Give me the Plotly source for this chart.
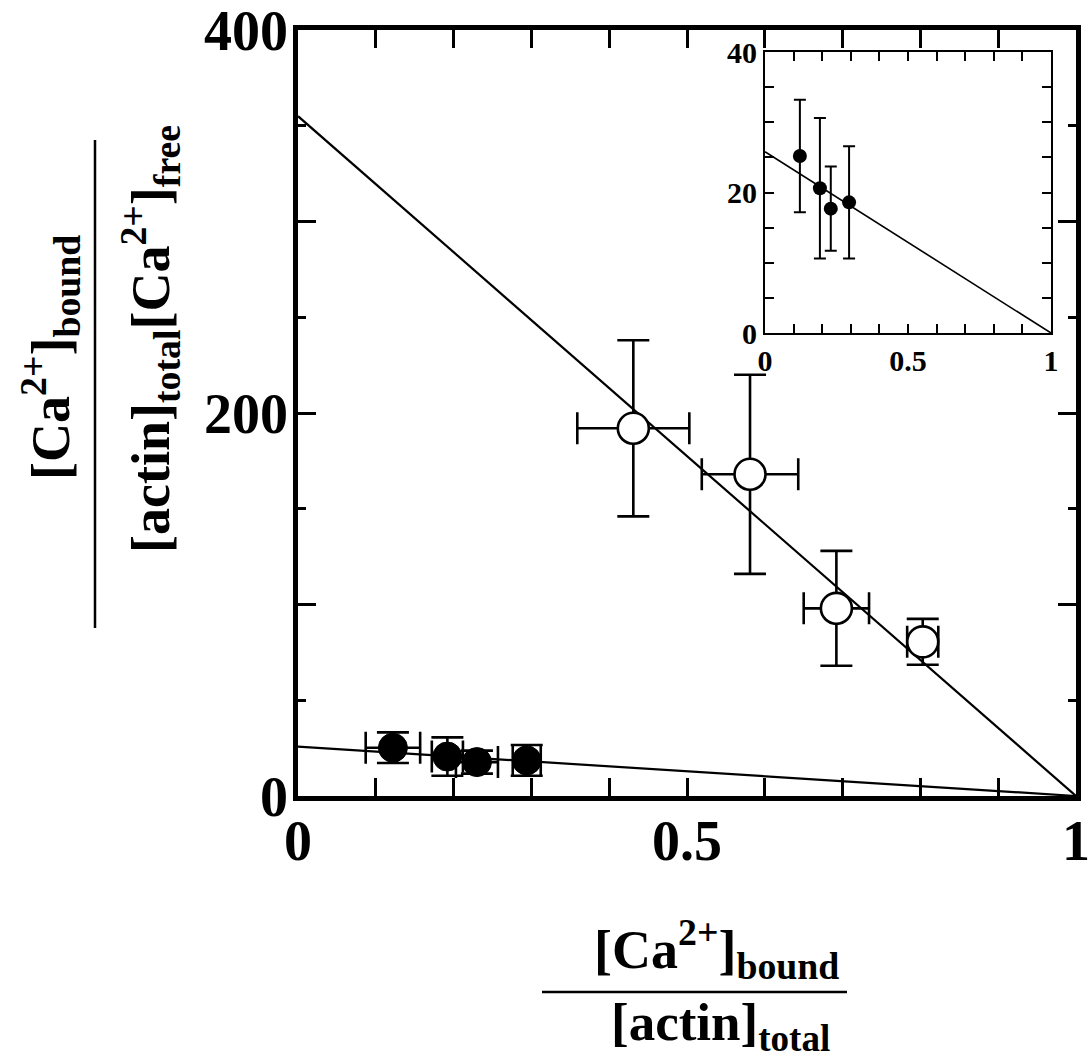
import plotly.graph_objects as go

# Scatchard-type data: open circles (high-affinity set) and filled circles
open_x = [0.431, 0.581, 0.692, 0.803]
open_y = [192.0, 168.0, 98.0, 80.5]
open_xerr = [0.072, 0.062, 0.042, 0.020]
open_yerr = [46.0, 52.0, 30.0, 12.0]

filled_x = [0.122, 0.192, 0.230, 0.294]
filled_y = [25.2, 20.6, 17.7, 18.6]
filled_xerr = [0.035, 0.020, 0.027, 0.018]
filled_yerr = [8.0, 10.0, 6.0, 8.0]

# Linear fits (intercept on y axis, crossing x = 1)
fit_x = [0.0, 1.0]
fit_open_y = [355.0, 0.0]
fit_filled_y = [25.8, 0.0]

# Tick values / labels
main_xticks = [0.0, 0.1, 0.2, 0.3, 0.4, 0.5, 0.6, 0.7, 0.8, 0.9, 1.0]
main_xlabels = ["0", "", "", "", "", "0.5", "", "", "", "", "1"]
main_yticks = [0, 100, 200, 300, 400]
main_ylabels = ["0", "", "200", "", "400"]
inset_xticks = main_xticks
inset_xlabels = main_xlabels
inset_yticks = [0, 5, 10, 15, 20, 25, 30, 35, 40]
inset_ylabels = ["0", "", "", "", "20", "", "", "", "40"]

W, H = 1092, 1061
ML, MR, MT, MB = 298, 16, 30, 265
PW, PH = W - ML - MR, H - MT - MB


def px(xpix):
    return (xpix - ML) / PW


def py(ypix):
    return (H - MB - ypix) / PH


SERIF = "Liberation Serif"
BIG = dict(family=SERIF, size=56, color="black", weight="bold")
SMALL = dict(family=SERIF, size=30, color="black", weight="bold")

fig = go.Figure()

# main panel: fit lines
fig.add_trace(go.Scatter(x=fit_x, y=fit_open_y, mode="lines",
                         line=dict(color="black", width=2.2), hoverinfo="skip"))
fig.add_trace(go.Scatter(x=fit_x, y=fit_filled_y, mode="lines",
                         line=dict(color="black", width=2.2), hoverinfo="skip"))

# main panel: open circles
fig.add_trace(go.Scatter(
    x=open_x, y=open_y, mode="markers",
    marker=dict(symbol="circle", size=31, color="white",
                line=dict(color="black", width=2.6)),
    error_x=dict(type="data", array=open_xerr, color="black", thickness=2.6, width=16),
    error_y=dict(type="data", array=open_yerr, color="black", thickness=2.6, width=16),
))

# main panel: filled circles
fig.add_trace(go.Scatter(
    x=filled_x, y=filled_y, mode="markers",
    marker=dict(symbol="circle", size=29, color="black",
                line=dict(color="black", width=1)),
    error_x=dict(type="data", array=filled_xerr, color="black", thickness=2.6, width=16),
    error_y=dict(type="data", array=filled_yerr, color="black", thickness=2.6, width=16),
))

# inset: filled circles on an expanded y scale
fig.add_trace(go.Scatter(x=fit_x, y=fit_filled_y, mode="lines",
                         line=dict(color="black", width=1.6),
                         xaxis="x2", yaxis="y2", hoverinfo="skip"))
fig.add_trace(go.Scatter(
    x=filled_x, y=filled_y, mode="markers", xaxis="x2", yaxis="y2",
    marker=dict(symbol="circle", size=14, color="black"),
    error_y=dict(type="data", array=filled_yerr, color="black", thickness=2, width=6),
))

main_axis = dict(showline=True, linewidth=4.5, linecolor="black", mirror="ticks",
                 ticks="inside", tickcolor="black", ticklen=18, tickwidth=3,
                 showgrid=False, zeroline=False, tickfont=BIG, fixedrange=True,
                 automargin=False, ticklabeloverflow="allow")
inset_axis = dict(showline=True, linewidth=2, linecolor="black", mirror="ticks",
                  ticks="inside", tickcolor="black", ticklen=9, tickwidth=2,
                  showgrid=False, zeroline=False, tickfont=SMALL, fixedrange=True,
                  automargin=False, ticklabeloverflow="allow")

fig.update_layout(
    width=W, height=H,
    margin=dict(l=ML, r=MR, t=MT, b=MB, pad=0, autoexpand=False),
    paper_bgcolor="white", plot_bgcolor="white",
    showlegend=False,
    xaxis=dict(main_axis, range=[0, 1], tickmode="array",
               tickvals=main_xticks, ticktext=main_xlabels, ticklabelstandoff=-8),
    yaxis=dict(main_axis, range=[0, 400], tickmode="array",
               tickvals=main_yticks, ticktext=main_ylabels, ticklabelstandoff=-6,
               minor=dict(tickmode="linear", tick0=0, dtick=50, ticks="inside",
                          ticklen=8, tickwidth=3, tickcolor="black", showgrid=False)),
    xaxis2=dict(inset_axis, domain=[px(765), px(1051)], anchor="y2", range=[0, 1],
                tickmode="array", tickvals=inset_xticks, ticktext=inset_xlabels,
                ticklabelstandoff=0),
    yaxis2=dict(inset_axis, domain=[py(333), py(52)], anchor="x2", range=[0, 40],
                tickmode="array", tickvals=inset_yticks, ticktext=inset_ylabels,
                ticklabelstandoff=0),
)

TITLE = dict(family=SERIF, size=54, color="black", weight="bold")

# x-axis title as a stacked fraction
fig.add_annotation(xref="paper", yref="paper", x=px(716), y=py(989),
                   xanchor="center", yanchor="bottom", showarrow=False,
                   text="[Ca<sup>2+</sup>]<sub>bound</sub>", font=TITLE)
fig.add_shape(type="line", xref="paper", yref="paper",
              x0=px(542), x1=px(847), y0=py(992), y1=py(992),
              line=dict(color="black", width=2.5))
fig.add_annotation(xref="paper", yref="paper", x=px(720), y=py(991),
                   xanchor="center", yanchor="top", showarrow=False,
                   text="[actin]<sub>total</sub>",
                   font=dict(TITLE, size=53))

# y-axis title as a rotated stacked fraction
fig.add_annotation(xref="paper", yref="paper", x=px(90), y=py(358),
                   xanchor="right", yanchor="middle", showarrow=False, textangle=-90,
                   text="[Ca<sup>2+</sup>]<sub>bound</sub>", font=TITLE)
fig.add_shape(type="line", xref="paper", yref="paper",
              x0=px(95), x1=px(95), y0=py(140), y1=py(628),
              line=dict(color="black", width=2.5))
fig.add_annotation(xref="paper", yref="paper", x=px(110), y=py(339),
                   xanchor="left", yanchor="middle", showarrow=False, textangle=-90,
                   text="[actin]<sub>total</sub>[Ca<sup>2+</sup>]<sub>free</sub>",
                   font=TITLE)

fig.write_html("out.html")
